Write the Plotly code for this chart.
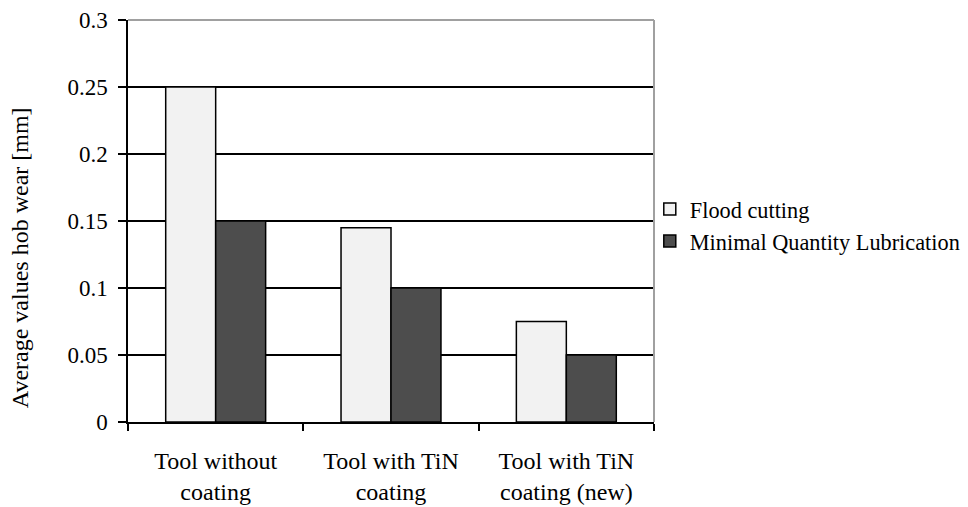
import plotly.graph_objects as go

categories = ["Tool without<br>coating", "Tool with TiN<br>coating", "Tool with TiN<br>coating (new)"]
flood_cutting = [0.25, 0.145, 0.075]
mql = [0.15, 0.10, 0.05]
series_names = ["Flood cutting", "Minimal Quantity Lubrication"]
y_ticks = [0, 0.05, 0.1, 0.15, 0.2, 0.25, 0.3]
y_tick_labels = ["0", "0.05", "0.1", "0.15", "0.2", "0.25", "0.3"]
y_title = "Average values hob wear [mm]"

FONT = "Times New Roman, Liberation Serif, DejaVu Serif, serif"

fig = go.Figure()
fig.add_trace(go.Bar(x=categories, y=flood_cutting, name=series_names[0],
                     marker=dict(color="#f2f2f2", line=dict(color="black", width=1.5))))
fig.add_trace(go.Bar(x=categories, y=mql, name=series_names[1],
                     marker=dict(color="#4d4d4d", line=dict(color="black", width=1.5))))

fig.update_layout(
    width=968, height=507,
    margin=dict(l=128, r=314, t=20, b=85, autoexpand=False),
    paper_bgcolor="white", plot_bgcolor="white",
    font=dict(family=FONT, size=23, color="black"),
    barmode="group", bargap=0.43, bargroupgap=0,
    showlegend=True,
    legend=dict(x=0.992, xanchor="left", y=0.49, yanchor="middle",
                font=dict(family=FONT, size=22.3, color="black"),
                bgcolor="rgba(0,0,0,0)", itemwidth=30, tracegroupgap=0),
)
fig.update_xaxes(
    type="category", range=[-0.5, 2.5], tickson="boundaries",
    ticks="outside", ticklen=7, tickcolor="black", tickwidth=1.5,
    showline=True, linecolor="black", linewidth=1.5,
    showgrid=False, ticklabelstandoff=16, automargin=False,
    tickfont=dict(family=FONT, size=24, color="black"),
)
fig.update_yaxes(
    range=[0, 0.3], tickvals=y_ticks, ticktext=y_tick_labels,
    ticks="outside", ticklen=8, tickcolor="black", tickwidth=1.5,
    showline=True, linecolor="black", linewidth=1.5,
    showgrid=True, gridcolor="black", gridwidth=1.5,
    zeroline=False, ticklabelstandoff=6, automargin=False,
    tickfont=dict(family=FONT, size=23, color="black"),
)
# grey plot-area border on top and right
fig.add_shape(type="line", xref="paper", yref="paper", x0=0, x1=1, y0=1, y1=1,
              line=dict(color="#a0a0a0", width=2), layer="above")
fig.add_shape(type="line", xref="paper", yref="paper", x0=1, x1=1, y0=0, y1=1,
              line=dict(color="#a0a0a0", width=2), layer="above")
fig.add_annotation(text=y_title, xref="paper", yref="paper",
                   x=-0.205, y=0.408, xanchor="center", yanchor="middle",
                   textangle=-90, showarrow=False,
                   font=dict(family=FONT, size=24, color="black"))

fig.write_html("out.html", config={"displayModeBar": False},
               post_script="document.body.style.margin='0';")
